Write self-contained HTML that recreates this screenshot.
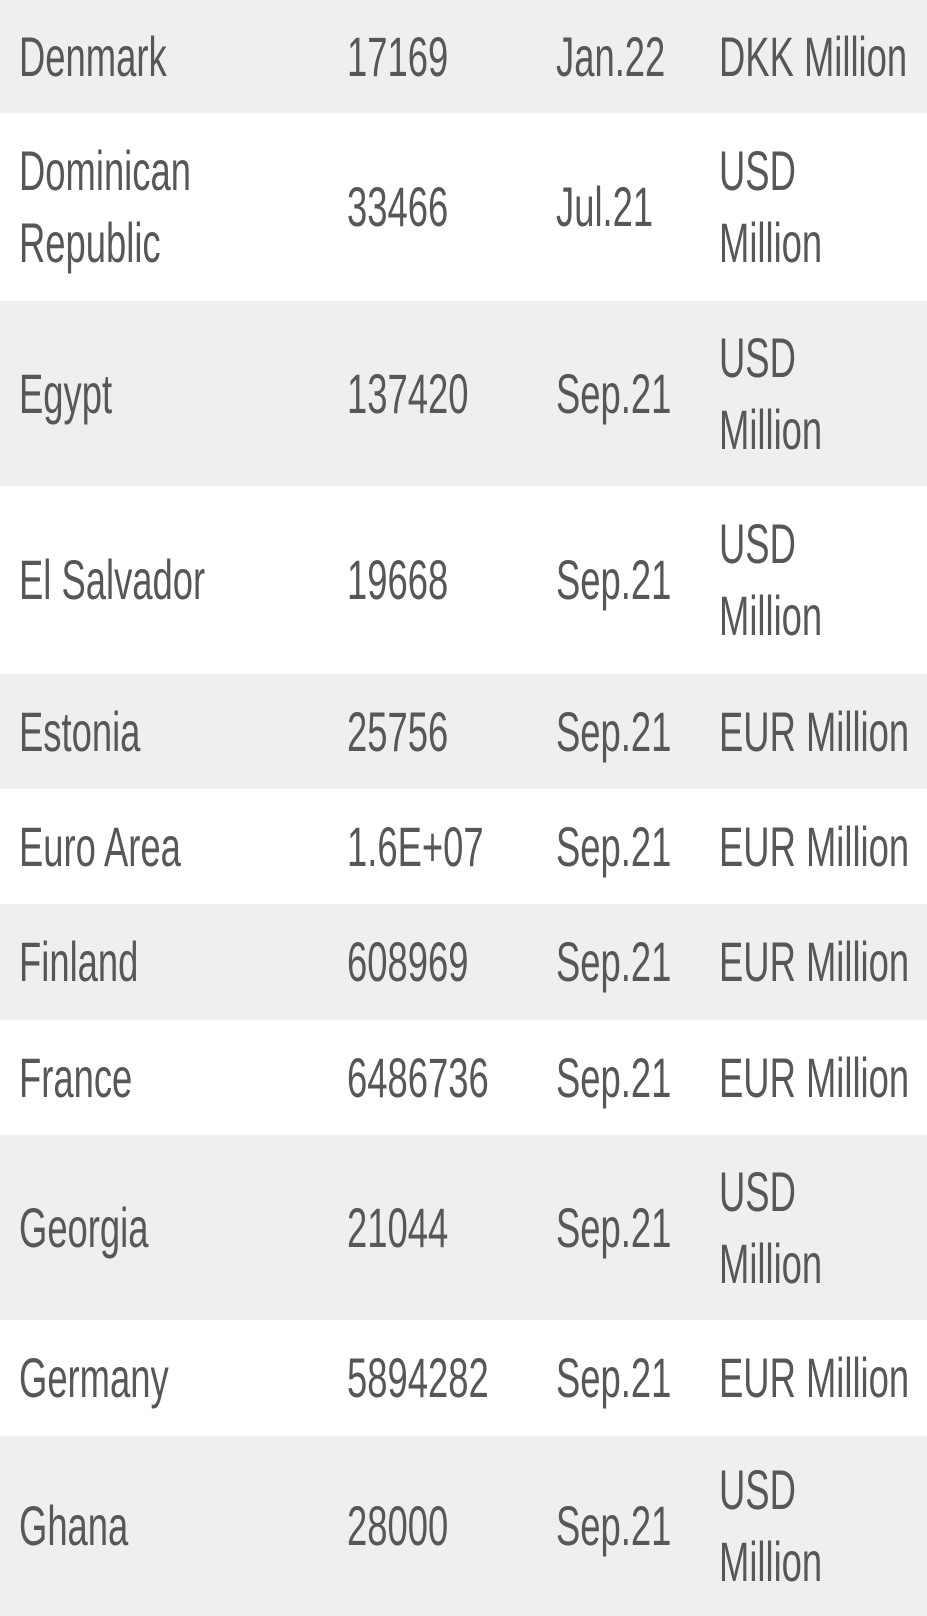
<!DOCTYPE html>
<html><head><meta charset="utf-8">
<style>
html,body{margin:0;padding:0;width:927px;height:1616px;overflow:hidden;background:#fff;}
.row{position:absolute;left:0;width:927px;}
.g{background:#efefef;}
.c{position:absolute;top:0;bottom:0;display:flex;flex-direction:column;justify-content:center;color:#575757;
font-family:"Liberation Sans Narrow","Liberation Sans",sans-serif;font-size:56px;line-height:72px;white-space:nowrap;}
.c span{display:block;transform:scaleX(0.65);transform-origin:left center;}
.n{left:19px}.v{left:347px}.d{left:556px}.u{left:719px}
</style></head><body>
<div id="t"></div>
<script>
const countries=["Denmark","Dominican|Republic","Egypt","El Salvador","Estonia","Euro Area","Finland","France","Georgia","Germany","Ghana"];
const values=["17169","33466","137420","19668","25756","1.6E+07","608969","6486736","21044","5894282","28000"];
const dates=["Jan.22","Jul.21","Sep.21","Sep.21","Sep.21","Sep.21","Sep.21","Sep.21","Sep.21","Sep.21","Sep.21"];
const units=["DKK Million","USD|Million","USD|Million","USD|Million","EUR Million","EUR Million","EUR Million","EUR Million","USD|Million","EUR Million","USD|Million"];
const bounds=[0,113,301,486,674,789,904,1020,1135,1320,1436,1616];
const t=document.getElementById('t');
function cell(cls,txt,name){
  const c=document.createElement('div');c.className='c '+cls;
  
  
  txt.split('|').forEach(s=>{const sp=document.createElement('span');sp.textContent=s;c.appendChild(sp);});
  return c;
}
countries.forEach((n,i)=>{
  const r=document.createElement('div');
  r.className='row'+(i%2===0?' g':'');
  r.style.top=bounds[i]+'px';r.style.height=(bounds[i+1]-bounds[i])+'px';
  
  
  r.appendChild(cell('n',n,'country-cell'));
  r.appendChild(cell('v',values[i],'value-cell'));
  r.appendChild(cell('d',dates[i],'date-cell'));
  r.appendChild(cell('u',units[i],'unit-cell'));
  t.appendChild(r);
});
</script>
</body></html>
